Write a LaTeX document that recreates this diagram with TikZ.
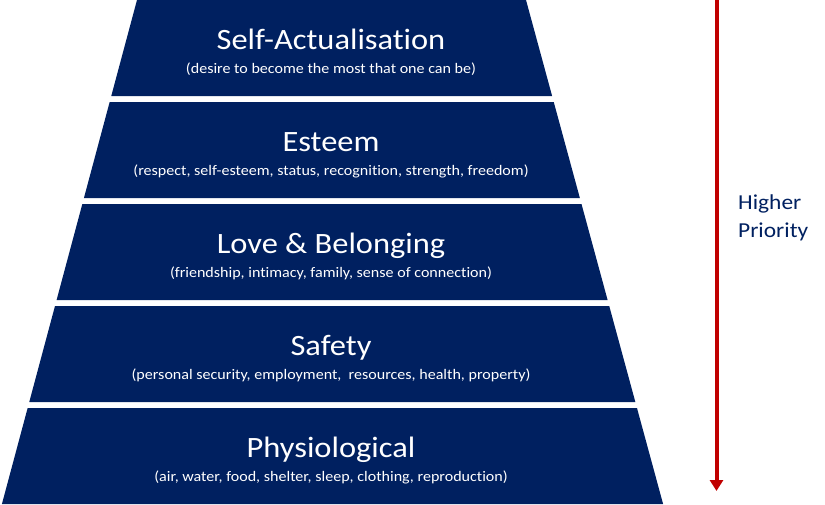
\documentclass[tikz,border=0pt]{standalone}
\usepackage{fontspec}
\setmainfont[Ligatures=NoCommon,FakeStretch=1.1]{Carlito}
\usetikzlibrary{arrows.meta}
\definecolor{navy}{HTML}{002060}
\definecolor{arrowred}{HTML}{C00000}
\tikzset{
  band/.style={fill=navy, draw=none},
  ttl/.style={text=white, font=\fontsize{29.5}{36}\selectfont, anchor=base, inner sep=0pt},
  sub/.style={text=white, font=\fontsize{14.6}{16}\selectfont, anchor=base, inner sep=0pt},
  prio/.style={text=navy, font=\fontsize{21.3}{28}\selectfont, anchor=base west, inner sep=0pt},
  priarrow/.style={draw=arrowred, line width=4pt, -{Triangle[width=13pt,length=11pt]}}
}
\begin{document}
\begin{tikzpicture}[x=1pt,y=-1pt]
\useasboundingbox (0,0) rectangle (825,504);
\foreach \t in {0,102,204,306,408}{
  \pgfmathsetmacro{\b}{\t+96}
  \pgfmathsetmacro{\lt}{137-0.268*\t}
  \pgfmathsetmacro{\lb}{137-0.268*\b}
  \pgfmathsetmacro{\rt}{526+0.272*\t}
  \pgfmathsetmacro{\rb}{526+0.272*\b}
  \fill[band] (\lt,\t) -- (\rt,\t) -- (\rb,\b) -- (\lb,\b) -- cycle;
}
\node[ttl] (t1) at (331,49) {Self-Actualisation};
\node[sub] (s1) at (331,73) {(desire to become the most that one can be)};
\node[ttl] (t2) at (331,151) {Esteem};
\node[sub] (s2) at (331,175) {(respect, self-esteem, status, recognition, strength, freedom)};
\node[ttl] (t3) at (331,253) {Love \& Belonging};
\node[sub] (s3) at (331,277) {(friendship, intimacy, family, sense of connection)};
\node[ttl] (t4) at (331,355) {Safety};
\node[sub] (s4) at (331,379) {(personal security, employment,\ \ resources, health, property)};
\node[ttl] (t5) at (331,457) {Physiological};
\node[sub] (s5) at (331,481) {(air, water, food, shelter, sleep, clothing, reproduction)};
\coordinate (atop) at (716.5,0);
\coordinate (abot) at (716.5,491);
\draw[priarrow] (atop) -- (abot);
\node[prio] (h1) at (738,209) {Higher};
\node[prio] (h2) at (738,237) {Priority};
\end{tikzpicture}
\end{document}
